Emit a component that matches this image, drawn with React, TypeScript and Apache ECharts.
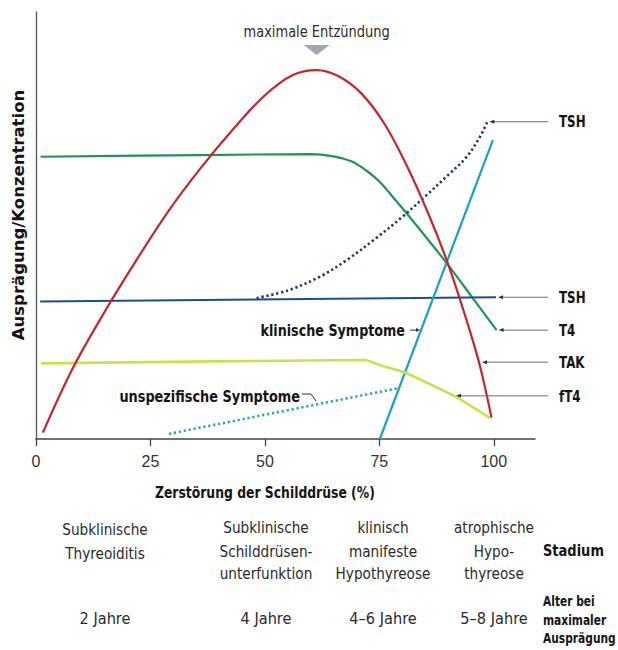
import React, { useEffect, useRef } from "react";
import * as echarts from "echarts";

const FONT = "'DejaVu Sans', 'Open Sans', sans-serif";
const TICK_FONT = "'Liberation Sans', Arial, sans-serif";

// x: Zerstörung der Schilddrüse (%), y: Ausprägung/Konzentration (relative)
const xTicks = [0, 25, 50, 75, 100];

const takX = [1.5, 8, 15, 22, 29, 36, 43, 50, 56, 61.3, 66, 71, 76, 81, 86, 90, 94, 97, 99.5];
const takY = [1.5, 16.5, 29.8, 42, 53.5, 63.5, 72.5, 80.5, 85.2, 86.4, 85, 81, 74, 64, 52, 41, 28, 17, 5];

const t4X = [1.0, 35.8, 59.9, 65, 69, 72, 75, 78, 82, 89.7, 95.2, 100.6];
const t4Y = [66.1, 66.5, 66.7, 66.2, 65.0, 63.0, 60.3, 56.6, 51.5, 41.2, 33.3, 25.5];

const tshX = [0.9, 100.5];
const tshY = [32.2, 33.2];

const tshRiseX = [48.2, 55, 62, 68, 74, 80, 85, 90, 94, 97, 98.6];
const tshRiseY = [33.0, 34.8, 38.0, 42.0, 46.8, 52.0, 56.8, 61.8, 66.0, 70.8, 74.3];

const clinX = [75.1, 99.8];
const clinY = [0, 70.0];

const ft4X = [1.1, 71.9, 75.1, 80.6, 91.3, 99.2];
const ft4Y = [17.7, 18.5, 17.3, 15.5, 10.1, 4.9];

const unspecX = [29.05, 79.1];
const unspecY = [1.2, 11.9];

const rightLabels = ["TSH", "TSH", "T4", "TAK", "fT4"];
const rightAnchorX = [98.6, 100.5, 100.6, 97.0, 91.3];
const rightAnchorY = [74.3, 33.2, 25.5, 18.0, 10.1];

const peakLabel = "maximale Entzündung";
const peakPoint = [61.3, 86.4];
const clinLabel = "klinische Symptome";
const clinAnchor = [84.1, 25.5];
const unspecLabel = "unspezifische Symptome";
const unspecAnchor = [61.6, 8.2];

const xTitle = "Zerstörung der Schilddrüse (%)";
const yTitle = "Ausprägung/Konzentration";

const stageLabels = [
  ["Subklinische", "Thyreoiditis"],
  ["Subklinische", "Schilddrüsen-", "unterfunktion"],
  ["klinisch", "manifeste", "Hypothyreose"],
  ["atrophische", "Hypo-", "thyreose"],
];
const ageLabels = ["2 Jahre", "4 Jahre", "4–6 Jahre", "5–8 Jahre"];
const stageHeader = "Stadium";
const ageHeader = ["Alter bei", "maximaler", "Ausprägung"];

const zip = (xs: number[], ys: number[]) => xs.map((x, i) => [x, ys[i]]);

export default function App() {
  const ref = useRef<HTMLDivElement>(null);
  useEffect(() => {
    if (!ref.current) return;
    const chart = echarts.init(ref.current, undefined, { renderer: "svg" });
    const line = (name: string, data: number[][], color: string, opts: any = {}) => ({
      type: "line",
      name,
      data,
      showSymbol: false,
      symbol: "none",
      lineStyle: { color, width: 2.2, ...(opts.lineStyle || {}) },
      smooth: opts.smooth ?? false,
      z: opts.z ?? 2,
      clip: false,
    });
    chart.setOption({
      animation: false,
      backgroundColor: "#ffffff",
      grid: { left: 36, top: 12, width: 499, height: 427 },
      xAxis: {
        type: "value",
        min: 0,
        max: 109,
        interval: 25,
        splitLine: { show: false },
        axisLine: { lineStyle: { color: "#444", width: 1.5 } },
        axisTick: { show: true, customValues: xTicks, length: 7, lineStyle: { color: "#444", width: 1.3 } },
        axisLabel: {
          customValues: xTicks,
          color: "#333",
          fontSize: 16,
          fontFamily: TICK_FONT,
          margin: 14,
        },
      },
      yAxis: {
        type: "value",
        min: 0,
        max: 100,
        splitLine: { show: false },
        axisLine: { show: true, lineStyle: { color: "#555", width: 1.3 } },
        axisTick: { show: false },
        axisLabel: { show: false },
      },
      series: [
        line("TAK", zip(takX, takY), "#c4262c", { smooth: 0.35, z: 3 }),
        line("T4", zip(t4X, t4Y), "#1f9650", { smooth: 0.35 }),
        line("TSH", zip(tshX, tshY), "#1e4d8c", {}),
        line("TSH (Anstieg)", zip(tshRiseX, tshRiseY), "#1c3566", { smooth: 0.35, lineStyle: { type: [2.2, 2.8], width: 2.6 } }),
        line("klinische Symptome", zip(clinX, clinY), "#1aa2c4", {}),
        line("fT4", zip(ft4X, ft4Y), "#c9e24c", { smooth: 0.2, lineStyle: { width: 2.6 } }),
        line("unspezifische Symptome", zip(unspecX, unspecY), "#25a8bb", { lineStyle: { type: [2.2, 2.8], width: 2.6 } }),
      ],
    });

    const px = (p: number[]) => chart.convertToPixel({ gridIndex: 0 }, p) as number[];
    const g: any[] = [];
    const txt = (text: string, x: number, y: number, o: { align?: string; size?: number; bold?: boolean; sx?: number; color?: string } = {}) => ({
      type: "text",
      x,
      y,
      scaleX: o.sx ?? 1,
      style: {
        text,
        fill: o.color ?? (o.bold ? "#141414" : "#2a2a2a"),
        fontSize: o.size ?? 15,
        fontWeight: o.bold ? "bold" : "normal",
        fontFamily: FONT,
        textAlign: o.align ?? "left",
        textVerticalAlign: "middle",
      },
      z: 10,
    });
    const leaderColor = "#6f6f6f";

    // right-hand labels with leader arrows
    const labelLineEnd = 548;
    rightLabels.forEach((lab, i) => {
      const [ax, ay] = px([rightAnchorX[i], rightAnchorY[i]]);
      g.push({ type: "line", shape: { x1: ax + 5, y1: ay, x2: labelLineEnd, y2: ay }, style: { stroke: leaderColor, lineWidth: 1 }, z: 9 });
      g.push({ type: "polygon", shape: { points: [[ax + 2, ay], [ax + 7, ay - 2], [ax + 7, ay + 2]] }, style: { fill: "#333" }, z: 9 });
      g.push(txt(lab, 559, ay, { bold: true, size: 16.5, sx: 0.72 }));
    });

    // maximale Entzündung
    const [pkx, pky] = px(peakPoint);
    g.push(txt(peakLabel, pkx, pky - 38, { align: "center", size: 15.5, sx: 0.84 }));
    g.push({ type: "polygon", shape: { points: [[pkx - 13, pky - 25], [pkx + 13, pky - 25], [pkx, pky - 15]] }, style: { fill: "#a2a6ae" }, z: 9 });

    // klinische Symptome
    const [cx, cy] = px(clinAnchor);
    g.push(txt(clinLabel, cx - 16, cy, { align: "right", bold: true, size: 15, sx: 0.85 }));
    g.push({ type: "line", shape: { x1: cx - 11, y1: cy, x2: cx - 3, y2: cy }, style: { stroke: "#333", lineWidth: 1 }, z: 9 });
    g.push({ type: "polygon", shape: { points: [[cx - 1, cy], [cx - 5, cy - 2], [cx - 5, cy + 2]] }, style: { fill: "#333" }, z: 9 });

    // unspezifische Symptome
    const [ux, uy] = px(unspecAnchor);
    const tr = ux - 18;
    const ty = uy - 7;
    g.push(txt(unspecLabel, tr, ty, { align: "right", bold: true, size: 15, sx: 0.86 }));
    g.push({ type: "polyline", shape: { points: [[tr + 2, ty - 3], [tr + 11, ty - 3], [ux - 2, uy - 3]] }, style: { stroke: "#333", lineWidth: 1, fill: null }, z: 9 });

    // axis titles
    const [x50] = px([50, 0]);
    g.push(txt(xTitle, x50, 492, { align: "center", bold: true, size: 15.5, sx: 0.8 }));
    g.push({
      type: "text",
      x: 18,
      y: 215,
      rotation: Math.PI / 2,
      style: { text: yTitle, fill: "#141414", fontSize: 16.5, fontWeight: "bold", fontFamily: FONT, textAlign: "center", textVerticalAlign: "middle" },
      z: 10,
    });

    // stage table
    const colX = [105, 266, 383, 494];
    const rowY = [527, 551, 573];
    stageLabels.forEach((lines, i) => {
      lines.forEach((t, j) => g.push(txt(t, colX[i], rowY[j] + (lines.length === 2 ? 2 : 0), { align: "center", size: 15.5, sx: 0.88 })));
    });
    ageLabels.forEach((t, i) => g.push(txt(t, colX[i], 619, { align: "center", size: 15.5, sx: 0.94 })));
    g.push(txt(stageHeader, 543, 551, { bold: true, size: 15.5, sx: 0.84 }));
    ageHeader.forEach((t, j) => g.push(txt(t, 543, 602 + j * 18.3, { bold: true, size: 13.5, sx: 0.79 })));

    chart.setOption({ graphic: g });
    return () => chart.dispose();
  }, []);
  return <div ref={ref} style={{ position: "absolute", left: 0, top: 0, width: 618, height: 650 }} />;
}
